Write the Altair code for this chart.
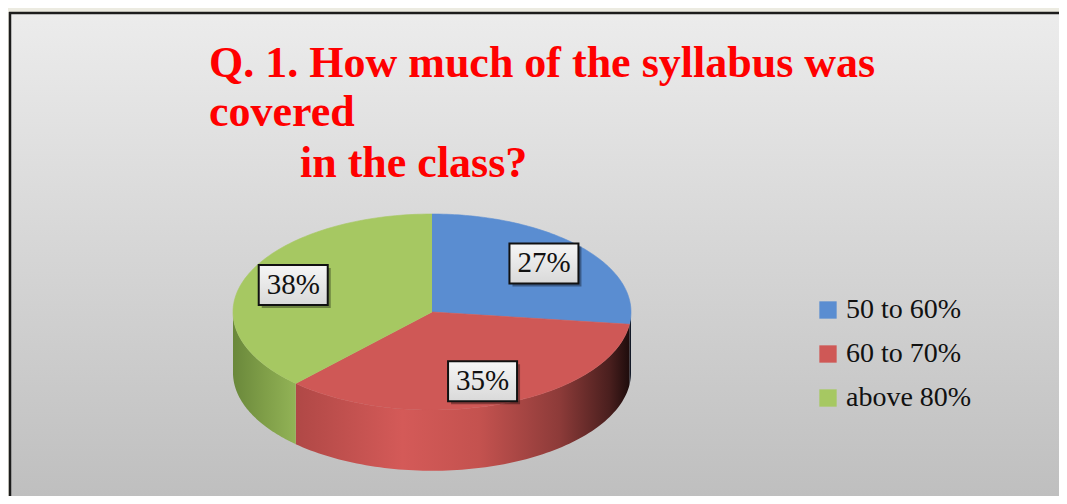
import altair as alt
import pandas as pd

# ---- data ----
categories = ["50 to 60%", "60 to 70%", "above 80%"]
values = [27, 35, 38]
slice_labels = ["27%", "35%", "38%"]
title_lines = ["Q. 1. How much of the syllabus was", "covered", "in the class?"]

# ---- styles ----
top_colors = ["#5a8dd1", "#cf5856", "#a6c862"]
side_stops = [
    [("#1c2436", 0), ("#0e1420", 1)],
    [("#b04846", 0), ("#d45a58", 0.32), ("#c4524f", 0.55), ("#8d3b39", 0.79), ("#4a1f1e", 0.94), ("#1e0c0c", 1)],
    [("#6a883b", 0), ("#7f9e48", 0.5), ("#92b356", 1)],
]
title_pos = [(201, 69), (201, 118), (292, 169)]

N = 90
DEPTH = 0.62
LABEL_R = 0.75

df = pd.DataFrame({"category": categories, "value": values,
                   "label": slice_labels, "k": list(range(len(categories)))})

xs = alt.Scale(domain=[-1, 1], range=[225, 623], zero=False, nice=False)
ys = alt.Scale(domain=[-1, 1], range=[402, 206], zero=False, nice=False)
color_scale = alt.Scale(domain=categories, range=top_colors)

base = alt.Chart(df).transform_window(
    cum="sum(value)", sort=[alt.SortField("k")], frame=[None, 0]
).transform_joinaggregate(total="sum(value)").transform_calculate(
    a0="2*PI*(datum.cum - datum.value)/datum.total",
    a1="2*PI*datum.cum/datum.total",
)

# panel background and its left/top border
one = pd.DataFrame({"p": [0]})
panel = alt.Chart(one).mark_rect(
    fill=alt.Gradient(gradient="linear", x1=0, x2=0, y1=0, y2=1,
                      stops=[alt.GradientStop(color="#ececec", offset=0),
                             alt.GradientStop(color="#bfbfbf", offset=1)]),
).encode(x=alt.value(2), x2=alt.value(1051), y=alt.value(5), y2=alt.value(488))
border_left = alt.Chart(one).mark_rule(color="#1c1c1c", strokeWidth=2.5).encode(
    x=alt.value(2), y=alt.value(4), y2=alt.value(488))
border_top = alt.Chart(one).mark_rule(color="#1c1c1c", strokeWidth=2.5).encode(
    x=alt.value(1), x2=alt.value(1051), y=alt.value(5))

# side walls (front half only)
side_base = base.transform_calculate(
    s0="max(datum.a0, PI/2)", s1="min(datum.a1, 3*PI/2)"
).transform_filter("datum.s1 > datum.s0").transform_calculate(
    idx=f"sequence(0, {N + 1})"
).transform_flatten(["idx"]).transform_calculate(
    ang=f"datum.s0 + (datum.s1 - datum.s0) * datum.idx / {N}"
).transform_calculate(
    px="sin(datum.ang)", py="cos(datum.ang)", py2=f"cos(datum.ang) - {DEPTH}"
)

side_layers = []
for cat, stops in zip(categories, side_stops):
    grad = alt.Gradient(gradient="linear", x1=0, x2=1, y1=0, y2=0,
                        stops=[alt.GradientStop(color=c, offset=o) for c, o in stops])
    side_layers.append(
        side_base.transform_filter(alt.datum.category == cat).mark_area(
            fill=grad, interpolate="linear"
        ).encode(
            x=alt.X("px:Q", scale=xs, axis=None),
            y=alt.Y("py:Q", scale=ys, axis=None),
            y2="py2:Q",
        )
    )

# top faces
top = base.transform_calculate(
    idx=f"sequence(0, {N + 2})"
).transform_flatten(["idx"]).transform_calculate(
    ang=f"datum.a0 + (datum.a1 - datum.a0) * (datum.idx - 1) / {N}"
).transform_calculate(
    px="datum.idx == 0 ? 0 : sin(datum.ang)",
    py="datum.idx == 0 ? 0 : cos(datum.ang)",
).mark_line(strokeWidth=0.6, strokeJoin="round").encode(
    x=alt.X("px:Q", scale=xs, axis=None),
    y=alt.Y("py:Q", scale=ys, axis=None),
    order="idx:Q",
    detail="category:N",
    fill=alt.Fill("category:N", scale=color_scale, sort=categories,
                  legend=alt.Legend(title=None, orient="none", legendX=806, legendY=288,
                                    symbolType="square", symbolSize=300,
                                    symbolStrokeWidth=0, symbolOpacity=1,
                                    labelFont="Liberation Serif", labelFontSize=28,
                                    labelColor="#111111", labelOffset=4,
                                    rowPadding=16, labelLimit=400)),
    stroke=alt.Stroke("category:N", scale=color_scale, legend=None),
)

# labels
lab = base.transform_calculate(
    mid="(datum.a0 + datum.a1) / 2"
).transform_calculate(
    lx=f"{LABEL_R} * sin(datum.mid)", ly=f"{LABEL_R} * cos(datum.mid)"
)
lx = alt.X("lx:Q", scale=xs, axis=None)
ly = alt.Y("ly:Q", scale=ys, axis=None)
shadow = lab.mark_rect(width=69, height=40, fill="#000000", opacity=0.35,
                       xOffset=3, yOffset=3).encode(x=lx, y=ly)
box = lab.mark_rect(
    width=69, height=40,
    fill=alt.Gradient(gradient="linear", x1=0, x2=0, y1=0, y2=1,
                      stops=[alt.GradientStop(color="#f6f6f6", offset=0),
                             alt.GradientStop(color="#d9d9d9", offset=1)]),
    stroke="#111111", strokeWidth=2,
).encode(x=lx, y=ly)
txt = lab.mark_text(font="Liberation Serif", fontSize=29, color="#111111",
                    baseline="middle", align="center").encode(x=lx, y=ly, text="label:N")

# title
title_layers = []
for line, (tx, ty) in zip(title_lines, title_pos):
    title_layers.append(
        alt.Chart(pd.DataFrame({"t": [line]})).mark_text(
            font="Liberation Serif", fontSize=44, fontWeight="bold", color="#ff0000",
            align="left", baseline="alphabetic",
        ).encode(text="t:N", x=alt.value(tx), y=alt.value(ty))
    )

chart = alt.layer(panel, border_left, border_top, *side_layers, top, shadow, box, txt,
                  *title_layers).properties(
    width=1051, height=488, padding=0,
    autosize=alt.AutoSizeParams(type="none"),
    background="#ecebe1",
).configure_view(stroke=None)

chart.save("out.html", embed_options={"renderer": "svg", "actions": False})
